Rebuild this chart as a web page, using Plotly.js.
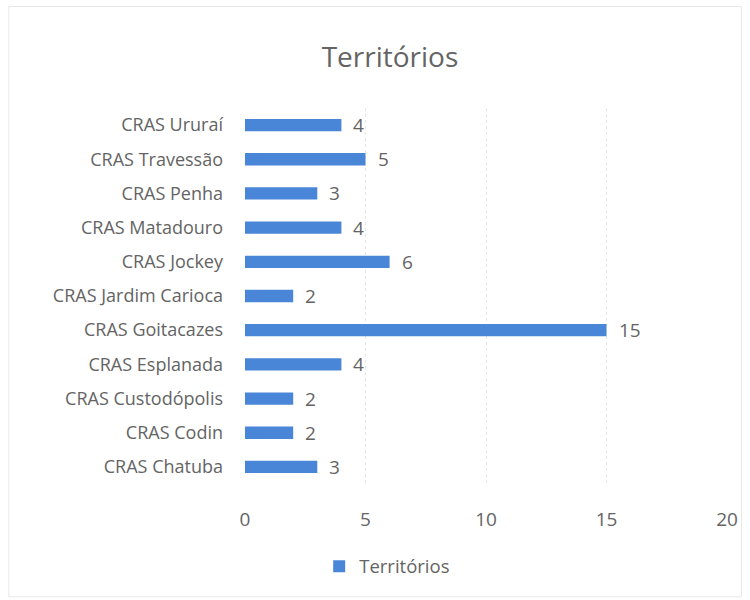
<!DOCTYPE html>
<html><head><meta charset="utf-8">
<script src="https://cdn.plot.ly/plotly-3.0.1.min.js"></script>
<style>body{margin:0;background:#fff}#c{width:750px;height:600px}</style>
</head><body><div id="c"></div>
<script>
var categories = ["CRAS Chatuba","CRAS Codin","CRAS Custodópolis","CRAS Esplanada","CRAS Goitacazes","CRAS Jardim Carioca","CRAS Jockey","CRAS Matadouro","CRAS Penha","CRAS Travessão","CRAS Ururaí"];
var values = [3,2,2,4,15,2,6,4,3,5,4];
var seriesName = "Territórios";
var tickVals = [0,5,10,15,20];

var gray = "#646464";
var font = "Open Sans, Noto Sans, sans-serif";

var annotations = categories.map(function(c,i){
  return {x: values[i], y: c, xref:"x", yref:"y", text: String(values[i]), showarrow:false,
    xanchor:"left", xshift:10, font:{family:font, size:19, color:gray}};
});

var trace = {type:"bar", orientation:"h", x: values, y: categories, name: seriesName,
  marker:{color:"#4a86d8"}, hoverinfo:"none"};

var layout = {
  width:750, height:600,
  paper_bgcolor:"#fff", plot_bgcolor:"#fff",
  margin:{l:245, r:23, t:108, b:116},
  title:{text:"Territórios", x:0.52, xanchor:"center", y:0.905, yanchor:"middle",
    font:{family:font, size:28, color:gray}},
  bargap:0.64,
  xaxis:{range:[0,20], tickvals:tickVals, showgrid:true, gridcolor:"#e6e6e6", griddash:"dot",
    zeroline:false, showline:false, ticks:"", ticklabelstandoff:22,
    tickfont:{family:font, size:19, color:gray}, fixedrange:true},
  yaxis:{type:"category", categoryorder:"array", categoryarray:categories,
    showgrid:false, zeroline:false, showline:false, ticks:"", ticklabelstandoff:21,
    tickfont:{family:font, size:18, color:gray}},
  showlegend:true,
  legend:{orientation:"h", x:0.295, xanchor:"center", y:-0.22, yanchor:"middle",
    font:{family:font, size:18.5, color:gray}, itemwidth:30},
  annotations: annotations,
  shapes:[{type:"rect", xref:"paper", yref:"paper", x0:-0.49, x1:1.03, y0:-0.3, y1:1.27,
    line:{color:"#e8e8e8", width:1}}]
};
Plotly.newPlot("c",[trace],layout,{displayModeBar:false, staticPlot:true});
</script></body></html>
